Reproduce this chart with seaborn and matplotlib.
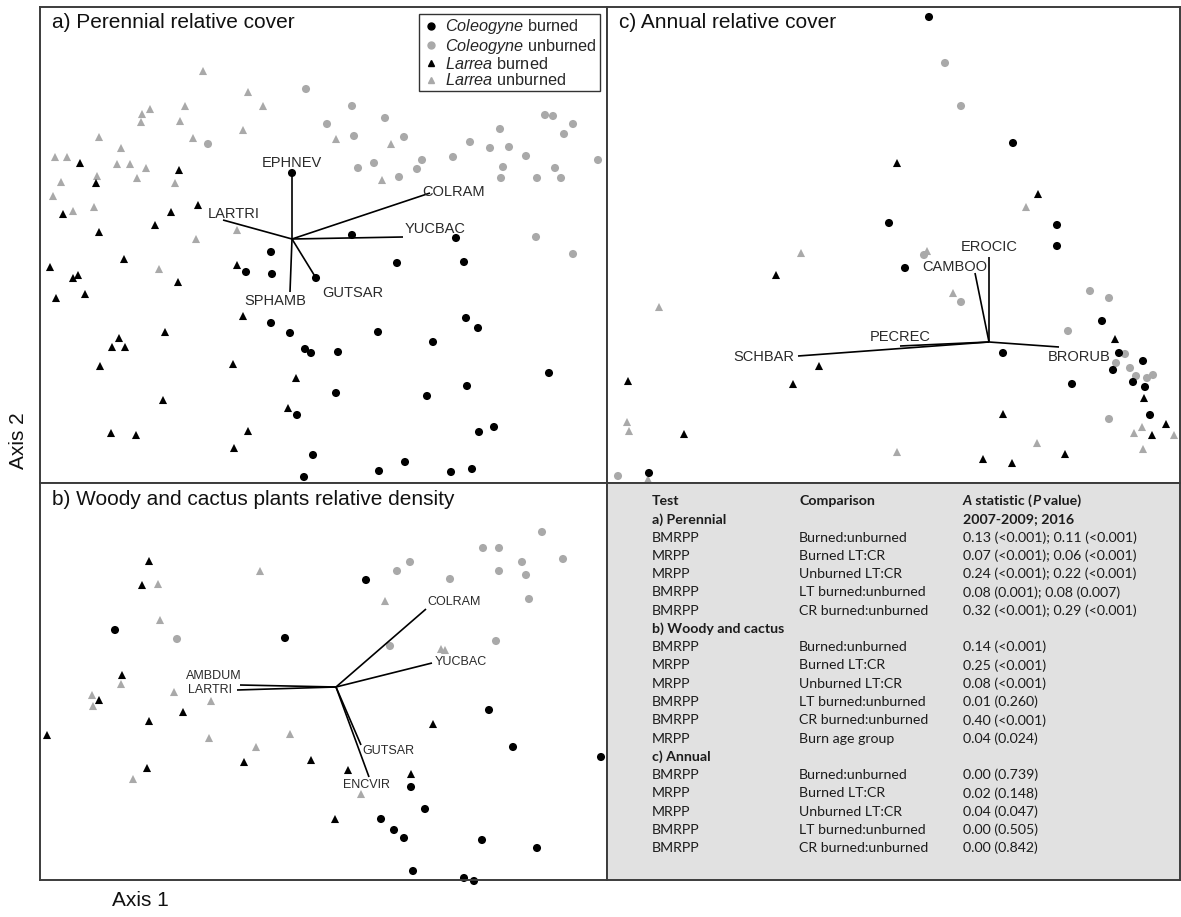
import numpy as np
import pandas as pd
import matplotlib
matplotlib.use("Agg")
import matplotlib.pyplot as plt
import seaborn as sns
from matplotlib.lines import Line2D

# ---------------- data (NMDS scores) ----------------
# Panel a) Perennial relative cover
a_coleo_burned = [(0.00, 0.66), (0.24, -0.39), (-0.21, -0.13), (-0.46, -0.33), (-0.20, -0.35),
                  (-0.21, -0.84), (-0.02, -0.94), (0.13, -1.10), (0.19, -1.14), (0.05, -1.76),
                  (0.21, -2.16), (0.12, -2.38), (0.60, 0.04), (1.64, 0.01), (1.05, -0.24),
                  (1.72, -0.23), (1.74, -0.79), (1.86, -0.89), (0.86, -0.93), (1.41, -1.03),
                  (0.46, -1.13), (0.44, -1.54), (1.35, -1.57), (1.75, -1.47), (2.57, -1.34),
                  (1.87, -1.93), (2.02, -1.88), (0.87, -2.32), (1.13, -2.23), (1.59, -2.33),
                  (1.80, -2.30)]
a_coleo_unburned = [(0.14, 1.50), (0.35, 1.15), (-0.84, 0.95), (0.60, 1.33), (0.93, 1.21),
                    (0.62, 1.03), (1.12, 1.02), (0.66, 0.71), (0.82, 0.76), (1.07, 0.62),
                    (1.25, 0.70), (1.30, 0.79), (1.61, 0.82), (1.78, 0.97), (1.98, 0.91),
                    (2.08, 1.10), (2.17, 0.92), (2.34, 0.83), (2.11, 0.72), (2.09, 0.61),
                    (2.45, 0.61), (2.53, 1.24), (2.61, 1.23), (2.81, 1.15), (2.72, 1.05),
                    (2.63, 0.71), (2.69, 0.61), (3.06, 0.79), (2.44, 0.02), (2.81, -0.15)]
a_larrea_burned = [(-2.12, 0.76), (-1.96, 0.56), (-1.13, 0.69), (-0.94, 0.34), (-1.21, 0.27),
                   (-1.37, 0.14), (-2.29, 0.25), (-1.93, 0.07), (-1.68, -0.20), (-2.42, -0.28),
                   (-2.19, -0.39), (-2.14, -0.36), (-2.36, -0.59), (-2.07, -0.55), (-1.14, -0.43),
                   (-0.55, -0.26), (-0.49, -0.77), (-1.27, -0.93), (-1.73, -0.99), (-1.80, -1.08),
                   (-1.67, -1.08), (-1.92, -1.27), (-0.59, -1.25), (0.04, -1.39), (-1.29, -1.61),
                   (-0.04, -1.69), (-1.81, -1.94), (-1.56, -1.96), (-0.44, -1.92), (-0.58, -2.09)]
a_larrea_unburned = [(-0.89, 1.68), (-0.44, 1.47), (-0.29, 1.33), (-1.42, 1.30), (-1.50, 1.25),
                     (-1.51, 1.17), (-1.07, 1.33), (-1.12, 1.18), (-0.49, 1.09), (-0.99, 1.01),
                     (-1.93, 1.02), (-1.71, 0.91), (-2.37, 0.82), (-2.25, 0.82), (-1.75, 0.75),
                     (-1.62, 0.75), (-1.46, 0.71), (-1.95, 0.63), (-1.55, 0.61), (-2.31, 0.57),
                     (-1.17, 0.56), (-2.39, 0.43), (-2.19, 0.28), (-1.98, 0.32), (-0.55, 0.09),
                     (-0.96, 0.00), (-1.33, -0.30), (0.44, 1.00), (0.99, 0.95), (0.90, 0.59)]
a_species = ["EPHNEV", "LARTRI", "SPHAMB", "GUTSAR", "COLRAM", "YUCBAC"]
a_vectors = [(0.00, 0.66), (-0.69, 0.19), (-0.02, -0.53), (0.24, -0.39), (1.38, 0.46), (1.11, 0.02)]

# Panel b) Woody and cactus plants relative density
b_coleo_burned = [(-2.21, 0.57), (-0.51, 0.49), (0.30, 1.07), (1.53, -0.23), (1.77, -0.60),
                  (2.65, -0.70), (0.75, -1.00), (0.89, -1.22), (0.45, -1.32), (0.58, -1.43),
                  (0.68, -1.51), (1.46, -1.53), (2.01, -1.61), (0.77, -1.84), (1.28, -1.91),
                  (1.38, -1.94)]
b_coleo_unburned = [(-1.59, 0.48), (2.06, 1.55), (1.47, 1.39), (1.63, 1.39), (0.74, 1.25),
                    (0.61, 1.16), (1.86, 1.25), (2.27, 1.28), (1.63, 1.16), (1.90, 1.12),
                    (1.14, 1.08), (1.93, 0.88), (0.54, 0.41), (1.60, 0.46)]
b_larrea_burned = [(-1.87, 1.26), (-1.94, 1.02), (-2.14, 0.12), (-2.37, -0.13), (-1.53, -0.25),
                   (-1.87, -0.34), (-2.89, -0.48), (-0.92, -0.75), (-0.25, -0.73), (-1.89, -0.81),
                   (0.97, -0.37), (0.12, -0.83), (0.75, -0.87), (-0.01, -1.32)]
b_larrea_unburned = [(-0.76, 1.16), (-1.78, 1.03), (-1.76, 0.67), (-2.15, 0.03), (-2.44, -0.08),
                     (-2.43, -0.19), (-1.62, -0.05), (-1.25, -0.14), (-1.27, -0.51), (-0.46, -0.47),
                     (-0.80, -0.60), (-2.03, -0.92), (0.49, 0.86), (1.05, 0.38), (1.09, 0.37),
                     (0.25, -1.07)]
b_species = ["COLRAM", "YUCBAC", "GUTSAR", "ENCVIR", "AMBDUM", "LARTRI"]
b_vectors = [(0.90, 0.78), (0.96, 0.24), (0.25, -0.58), (0.33, -0.90), (-0.96, 0.02), (-0.99, -0.03)]

# Panel c) Annual relative cover
c_coleo_burned = [(-1.00, 1.19), (-3.40, -1.31), (-0.60, 3.25), (0.24, 1.99), (0.68, 1.17),
                  (0.68, 0.96), (-0.84, 0.74), (1.13, 0.21), (0.14, -0.11), (1.30, -0.11),
                  (1.54, -0.19), (1.24, -0.28), (1.44, -0.40), (1.56, -0.45), (0.83, -0.42),
                  (1.61, -0.73)]
c_coleo_unburned = [(-3.71, -1.34), (-0.44, 2.79), (-0.28, 2.36), (-0.65, 0.87), (-0.28, 0.40),
                    (1.01, 0.51), (1.20, 0.44), (0.79, 0.11), (1.36, -0.12), (1.27, -0.21),
                    (1.41, -0.26), (1.47, -0.34), (1.58, -0.36), (1.64, -0.33), (1.20, -0.77)]
c_larrea_burned = [(-0.92, 1.79), (-2.13, 0.67), (-1.70, -0.24), (-1.96, -0.42), (-3.61, -0.39),
                   (-3.05, -0.92), (0.49, 1.48), (1.26, 0.03), (1.55, -0.56), (0.14, -0.72),
                   (1.77, -0.82), (1.63, -0.93), (-0.06, -1.17), (0.23, -1.21), (0.76, -1.12)]
c_larrea_unburned = [(-1.88, 0.89), (-3.30, 0.35), (-3.62, -0.80), (-3.60, -0.89), (-3.41, -1.37),
                     (-0.92, -1.10), (0.37, 1.35), (-0.62, 0.91), (-0.36, 0.49), (0.48, -1.01),
                     (1.53, -0.85), (1.45, -0.91), (1.85, -0.93), (1.54, -1.07)]
c_species = ["EROCIC", "CAMBOO", "SCHBAR", "PECREC", "BRORUB"]
c_vectors = [(0.00, 0.85), (-0.14, 0.69), (-1.91, -0.14), (-0.89, -0.04), (0.70, -0.05)]

# Table of test results
table_tests = ["BMRPP", "MRPP", "MRPP", "BMRPP", "BMRPP",
               "BMRPP", "MRPP", "MRPP", "BMRPP", "BMRPP", "MRPP",
               "BMRPP", "MRPP", "MRPP", "BMRPP", "BMRPP"]
table_comparisons = ["Burned:unburned", "Burned LT:CR", "Unburned LT:CR", "LT burned:unburned", "CR burned:unburned",
                     "Burned:unburned", "Burned LT:CR", "Unburned LT:CR", "LT burned:unburned", "CR burned:unburned",
                     "Burn age group",
                     "Burned:unburned", "Burned LT:CR", "Unburned LT:CR", "LT burned:unburned", "CR burned:unburned"]
table_stats = ["0.13 (<0.001); 0.11 (<0.001)", "0.07 (<0.001); 0.06 (<0.001)", "0.24 (<0.001); 0.22 (<0.001)",
               "0.08 (0.001); 0.08 (0.007)", "0.32 (<0.001); 0.29 (<0.001)",
               "0.14 (<0.001)", "0.25 (<0.001)", "0.08 (<0.001)", "0.01 (0.260)", "0.40 (<0.001)", "0.04 (0.024)",
               "0.00 (0.739)", "0.02 (0.148)", "0.04 (0.047)", "0.00 (0.505)", "0.00 (0.842)"]
table_sections = ["a) Perennial", "b) Woody and cactus", "c) Annual"]
section_sizes = [5, 6, 5]

group_names = ["Coleogyne unburned", "Larrea unburned", "Coleogyne burned", "Larrea burned"]

# ---------------- styling ----------------
sns.set_style("white")
plt.rcParams["font.family"] = ["Liberation Sans", "DejaVu Sans"]
plt.rcParams["mathtext.fontset"] = "custom"
plt.rcParams["mathtext.it"] = "Liberation Sans:italic"
plt.rcParams["mathtext.rm"] = "Liberation Sans"

W, H = 1181, 917
fig = plt.figure(figsize=(W / 100, H / 100), dpi=100)
fig.patch.set_facecolor("white")

def rect(l, t, r, b):
    return [l / W, (H - b) / H, (r - l) / W, (b - t) / H]

FRAME = "#3c3c3c"
GRAY = "#a9a9a9"
palette = {"Coleogyne unburned": GRAY, "Larrea unburned": GRAY,
           "Coleogyne burned": "black", "Larrea burned": "black"}
markers = {"Coleogyne unburned": "o", "Larrea unburned": "^",
           "Coleogyne burned": "o", "Larrea burned": "^"}

def make_df(cb, cu, lb, lu):
    rows = []
    for name, pts in [("Coleogyne unburned", cu), ("Larrea unburned", lu),
                      ("Coleogyne burned", cb), ("Larrea burned", lb)]:
        for x, y in pts:
            rows.append({"x": x, "y": y, "group": name})
    return pd.DataFrame(rows)

def style_frame(ax):
    ax.set_xticks([]); ax.set_yticks([])
    ax.set_xlabel(""); ax.set_ylabel("")
    for s in ax.spines.values():
        s.set_visible(True)
        s.set_color(FRAME)
        s.set_linewidth(1.4)

def draw_panel(ax, df, species, vectors, offsets, fsize, title, xlim, ylim):
    sns.scatterplot(data=df, x="x", y="y", hue="group", style="group",
                    palette=palette, markers=markers, hue_order=group_names,
                    style_order=group_names, s=34, edgecolor="none", linewidth=0,
                    legend=False, ax=ax, clip_on=False, zorder=2)
    for name, (vx, vy) in zip(species, vectors):
        ax.plot([0, vx], [0, vy], color="black", lw=1.2, zorder=3, solid_capstyle="butt")
        dx, dy, ha = offsets[name]
        ax.annotate(name, xy=(vx, vy), xytext=(dx, dy), textcoords="offset pixels",
                    ha=ha, va="center", fontsize=fsize, color="#2a2a2a", zorder=4)
    ax.set_xlim(*xlim); ax.set_ylim(*ylim)
    ax.annotate(title, xy=(0, 1), xycoords="axes fraction", xytext=(12, -16),
                textcoords="offset pixels", ha="left", va="center", fontsize=15, color="#111111")
    style_frame(ax)

# Panel a
ax_a = fig.add_axes(rect(40, 7, 607, 483))
off_a = {"EPHNEV": (0, 10, "center"), "LARTRI": (-15, 6, "left"), "SPHAMB": (-15, -9, "center"),
         "GUTSAR": (6, -15, "left"), "COLRAM": (-8, 1, "left"), "YUCBAC": (2, 8, "left")}
draw_panel(ax_a, make_df(a_coleo_burned, a_coleo_unburned, a_larrea_burned, a_larrea_unburned),
           a_species, a_vectors, off_a, 10.5, "a) Perennial relative cover",
           (-2.52, 3.15), (-2.44, 2.32))

handles = [Line2D([], [], ls="none", marker="o", color="black", markersize=5),
           Line2D([], [], ls="none", marker="o", color=GRAY, markersize=5),
           Line2D([], [], ls="none", marker="^", color="black", markersize=5),
           Line2D([], [], ls="none", marker="^", color=GRAY, markersize=5)]
labels = [r"$\it{Coleogyne}$ burned", r"$\it{Coleogyne}$ unburned",
          r"$\it{Larrea}$ burned", r"$\it{Larrea}$ unburned"]
leg = ax_a.legend(handles, labels, loc="upper right", bbox_to_anchor=(0.9877, 0.9853),
                  frameon=True, fancybox=False, framealpha=1, edgecolor="#333333",
                  fontsize=11.7, borderpad=0.2, labelspacing=0.02, handletextpad=0.3,
                  handlelength=1.1, borderaxespad=0)
leg.get_frame().set_linewidth(1.0)

# Panel c
ax_c = fig.add_axes(rect(607, 7, 1180, 483))
off_c = {"EROCIC": (0, 10, "center"), "CAMBOO": (12, 6, "right"), "SCHBAR": (-4, -1, "right"),
         "PECREC": (0, 9, "center"), "BRORUB": (-11, -10, "left")}
draw_panel(ax_c, make_df(c_coleo_burned, c_coleo_unburned, c_larrea_burned, c_larrea_unburned),
           c_species, c_vectors, off_c, 10.5, "c) Annual relative cover",
           (-3.82, 1.91), (-1.41, 3.35))

# Panel b
ax_b = fig.add_axes(rect(40, 483, 607, 880))
off_b = {"COLRAM": (1, 7, "left"), "YUCBAC": (3, 1, "left"), "GUTSAR": (1, -6, "left"),
         "ENCVIR": (-3, -8, "center"), "AMBDUM": (-26, 9, "center"), "LARTRI": (-5, 0, "right")}
draw_panel(ax_b, make_df(b_coleo_burned, b_coleo_unburned, b_larrea_burned, b_larrea_unburned),
           b_species, b_vectors, off_b, 9, "b) Woody and cactus plants relative density",
           (-2.96, 2.71), (-1.93, 2.04))

# Table panel
ax_t = fig.add_axes(rect(607, 483, 1180, 880))
ax_t.set_facecolor("#e1e1e1")
ax_t.set_xlim(0, 573); ax_t.set_ylim(397, 0)
style_frame(ax_t)
TF = ["Lato", "DejaVu Sans"]
tfs = 10.2
TC = "#1c1c1c"
cx = [45, 192, 356]
row_step = 18.27
y0 = 18.0

def trow(i):
    return y0 + i * row_step

ax_t.text(cx[0], trow(0), "Test", fontfamily=TF, fontsize=tfs, fontweight="bold", va="center", color=TC)
ax_t.text(cx[1], trow(0), "Comparison", fontfamily=TF, fontsize=tfs, fontweight="bold", va="center", color=TC)
t1 = ax_t.text(cx[2], trow(0), "A", fontfamily=TF, fontsize=tfs, fontweight="bold", style="italic",
               va="center", color=TC)
t2 = ax_t.annotate(" statistic (", xy=(1, 0), xycoords=t1, va="bottom", ha="left",
                   fontfamily=TF, fontsize=tfs, fontweight="bold", color=TC)
t3 = ax_t.annotate("P", xy=(1, 0), xycoords=t2, va="bottom", ha="left",
                   fontfamily=TF, fontsize=tfs, fontweight="bold", style="italic", color=TC)
ax_t.annotate(" value)", xy=(1, 0), xycoords=t3, va="bottom", ha="left",
              fontfamily=TF, fontsize=tfs, fontweight="bold", color=TC)
ax_t.text(cx[2], trow(1), "2007-2009; 2016", fontfamily=TF, fontsize=tfs, fontweight="bold",
          va="center", color=TC)

r = 1
k = 0
for sec, n in zip(table_sections, section_sizes):
    ax_t.text(cx[0], trow(r), sec, fontfamily=TF, fontsize=tfs, fontweight="bold", va="center", color=TC)
    r += 1
    for j in range(n):
        ax_t.text(cx[0], trow(r), table_tests[k], fontfamily=TF, fontsize=tfs, va="center", color=TC)
        ax_t.text(cx[1], trow(r), table_comparisons[k], fontfamily=TF, fontsize=tfs, va="center", color=TC)
        ax_t.text(cx[2], trow(r), table_stats[k], fontfamily=TF, fontsize=tfs, va="center", color=TC)
        r += 1
        k += 1

fig.text(18 / W, 1 - 441 / H, "Axis 2", rotation=90, ha="center", va="center", fontsize=15, color="#111111")
fig.text(140 / W, 1 - 901 / H, "Axis 1", ha="center", va="center", fontsize=15, color="#111111")

fig.savefig("out.png", dpi=100)
